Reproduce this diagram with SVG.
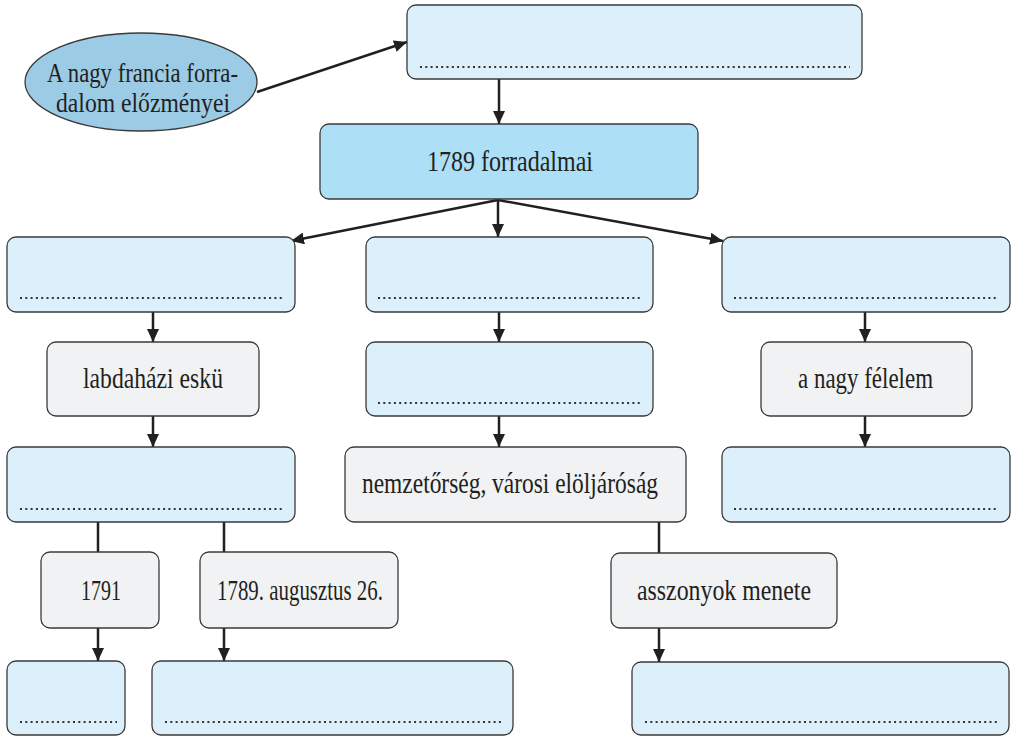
<svg xmlns="http://www.w3.org/2000/svg" width="1013" height="736" viewBox="0 0 1013 736">
<style>
.b{fill:#dbf0fb;stroke:#3a3a3a;stroke-width:1.3}
.g{fill:#f1f2f3;stroke:#3a3a3a;stroke-width:1.3}
.m{fill:#addff7;stroke:#3a3a3a;stroke-width:1.3}
.d{stroke:#333;stroke-width:2;stroke-dasharray:2 3.3;fill:none}
.t{font-family:"Liberation Serif","Times New Roman",serif;font-size:30px;fill:#231f20}
.e{font-size:27px}
.c line{stroke:#231f20;stroke-width:2.5}
.a{marker-end:url(#ah)}
</style>
<defs>
<marker id="ah" markerUnits="userSpaceOnUse" markerWidth="14" markerHeight="12" refX="13" refY="6" orient="auto">
<path d="M0,0 L13,6 L0,12 z" fill="#231f20"/>
</marker>
</defs>
<g class="c" id="connectors">
<line class="a" x1="257" y1="92" x2="407" y2="42"/>
<line class="a" x1="499" y1="79" x2="499" y2="124"/>
<line class="a" x1="498" y1="200" x2="291" y2="241"/>
<line class="a" x1="498" y1="200" x2="498" y2="237"/>
<line class="a" x1="498" y1="200" x2="723" y2="241"/>
<line class="a" x1="153" y1="312" x2="153" y2="342"/>
<line class="a" x1="499" y1="312" x2="499" y2="342"/>
<line class="a" x1="865" y1="312" x2="865" y2="342"/>
<line class="a" x1="153" y1="416" x2="153" y2="447"/>
<line class="a" x1="499" y1="416" x2="499" y2="447"/>
<line class="a" x1="865" y1="416" x2="865" y2="447"/>
<line x1="98" y1="522" x2="98" y2="552"/>
<line x1="224" y1="522" x2="224" y2="552"/>
<line x1="659" y1="522" x2="659" y2="553"/>
<line class="a" x1="98" y1="628" x2="98" y2="661"/>
<line class="a" x1="224" y1="628" x2="224" y2="661"/>
<line class="a" x1="659" y1="628" x2="659" y2="662"/>
</g>
<g id="n-elozmenyek">
<ellipse cx="141" cy="82" rx="116" ry="49" fill="#9ccbe5" stroke="#3a3a3a" stroke-width="1.3"/>
<text class="t e" x="47" y="82" textLength="191" lengthAdjust="spacingAndGlyphs">A nagy francia forra-</text>
<text class="t e" x="56" y="112" textLength="174" lengthAdjust="spacingAndGlyphs">dalom előzményei</text>
</g>
<g id="n-top"><rect class="b" x="407" y="5" width="455" height="74" rx="9"/><line class="d" x1="420" y1="67" x2="850" y2="67"/></g>
<g id="n-1789"><rect class="m" x="320" y="124" width="378" height="75" rx="9"/><text class="t" x="427" y="171" textLength="166" lengthAdjust="spacingAndGlyphs">1789 forradalmai</text></g>
<g id="n-r1-left"><rect class="b" x="7" y="237" width="288" height="75" rx="9"/><line class="d" x1="20" y1="298" x2="283" y2="298"/></g>
<g id="n-r1-mid"><rect class="b" x="366" y="237" width="287" height="75" rx="9"/><line class="d" x1="378" y1="298" x2="641" y2="298"/></g>
<g id="n-r1-right"><rect class="b" x="722" y="237" width="288" height="75" rx="9"/><line class="d" x1="734" y1="298" x2="998" y2="298"/></g>
<g id="n-labdahazi"><rect class="g" x="47" y="342" width="212" height="74" rx="9"/><text class="t" x="83" y="388" textLength="140" lengthAdjust="spacingAndGlyphs">labdaházi eskü</text></g>
<g id="n-r2-mid"><rect class="b" x="366" y="342" width="287" height="74" rx="9"/><line class="d" x1="378" y1="403" x2="641" y2="403"/></g>
<g id="n-felelem"><rect class="g" x="761" y="342" width="211" height="74" rx="9"/><text class="t" x="798" y="388" textLength="135" lengthAdjust="spacingAndGlyphs">a nagy félelem</text></g>
<g id="n-r3-left"><rect class="b" x="7" y="447" width="288" height="75" rx="9"/><line class="d" x1="20" y1="509" x2="283" y2="509"/></g>
<g id="n-nemzetorseg"><rect class="g" x="345" y="447" width="341" height="75" rx="9"/><text class="t" x="362" y="493" textLength="296" lengthAdjust="spacingAndGlyphs">nemzetőrség, városi elöljáróság</text></g>
<g id="n-r3-right"><rect class="b" x="722" y="447" width="288" height="75" rx="9"/><line class="d" x1="734" y1="509" x2="998" y2="509"/></g>
<g id="n-1791"><rect class="g" x="41" y="552" width="118" height="76" rx="9"/><text class="t" x="81" y="600" textLength="40" lengthAdjust="spacingAndGlyphs">1791</text></g>
<g id="n-aug26"><rect class="g" x="200" y="552" width="198" height="76" rx="9"/><text class="t" x="217" y="600" textLength="166" lengthAdjust="spacingAndGlyphs">1789. augusztus 26.</text></g>
<g id="n-asszonyok"><rect class="g" x="611" y="553" width="226" height="75" rx="9"/><text class="t" x="637" y="600" textLength="174" lengthAdjust="spacingAndGlyphs">asszonyok menete</text></g>
<g id="n-r5-a"><rect class="b" x="7" y="661" width="118" height="74" rx="9"/><line class="d" x1="20" y1="722" x2="117" y2="722"/></g>
<g id="n-r5-b"><rect class="b" x="152" y="661" width="361" height="74" rx="9"/><line class="d" x1="165" y1="722" x2="502" y2="722"/></g>
<g id="n-r5-c"><rect class="b" x="632" y="662" width="377" height="73" rx="9"/><line class="d" x1="645" y1="722" x2="997" y2="722"/></g>
</svg>
